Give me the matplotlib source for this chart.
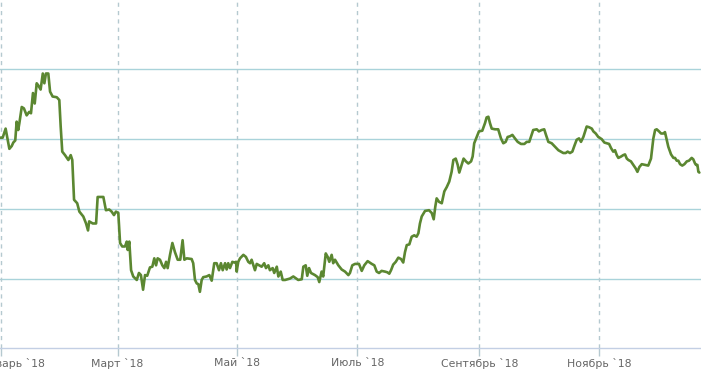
import matplotlib.pyplot as plt
import matplotlib.transforms as mtransforms
import pandas as pd

# days since 1 Jan 2018 and values
days = [-0.8, 0.6, 2.1, 2.9, 4.0, 5.2, 6.0, 7.0, 7.7, 8.5, 9.1, 10.3, 11.4, 12.8, 14.1, 15.0,
        16.0, 16.9, 17.9, 18.7, 19.9, 21.0, 21.8, 22.6, 23.8, 24.7, 26.0, 28.1, 29.4, 30.1,
        30.9, 32.3, 34.0, 35.2, 36.0, 36.9, 38.5, 39.6, 41.6, 43.0, 44.0, 44.6, 46.4, 48.1,
        48.9, 51.8, 53.1, 54.8, 56.0, 57.2, 58.2, 59.4, 60.3, 61.4, 62.8, 63.7, 64.2, 65.0,
        65.9, 67.0, 68.8, 69.9, 70.9, 72.0, 73.0, 74.1, 75.5, 76.7, 77.7, 78.6, 79.4, 80.6,
        81.8, 82.8, 83.7, 84.5, 85.7, 86.9, 88.2, 89.6, 90.9, 92.1, 93.0, 94.2, 96.7, 97.5,
        98.4, 99.3, 100.1, 100.9, 101.8, 102.6, 104.3, 105.7, 106.9, 108.2, 109.4, 110.6,
        111.6, 112.5, 113.7, 114.5, 115.3, 116.2, 117.4, 118.4, 119.3, 119.6, 120.4, 121.3,
        123.0, 124.3, 125.5, 126.4, 127.2, 128.1, 128.9, 129.8, 131.0, 132.3, 133.6, 134.5,
        135.7, 136.5, 137.9, 138.7, 140.0, 140.8, 142.0, 143.0, 144.2, 146.7, 148.4, 150.9,
        152.7, 153.5, 154.7, 155.5, 156.4, 157.4, 159.4, 160.8, 161.6, 162.8, 163.6, 164.9,
        165.9, 166.7, 167.9, 168.7, 169.6, 171.3, 173.0, 174.7, 176.4, 177.2, 178.4, 179.8,
        181.8, 183.2, 184.5, 186.2, 188.3, 189.6, 190.8, 192.0, 193.3, 195.0, 196.2, 197.2,
        198.1, 199.2, 200.5, 201.8, 203.2, 204.3, 205.2, 206.1, 207.4, 208.6, 209.9, 211.1,
        212.0, 212.8, 213.7, 215.4, 217.4, 218.8, 219.8, 220.6, 221.3, 222.5, 223.9, 225.2,
        226.4, 227.7, 228.9, 229.8, 231.0, 232.0, 232.8, 233.7, 235.0, 236.2, 237.4, 238.8,
        239.6, 240.4, 241.7, 242.8, 244.5, 245.9, 246.7, 247.6, 248.4, 249.3, 251.0, 252.6,
        254.0, 255.2, 256.4, 257.4, 258.6, 259.8, 261.1, 262.5, 264.2, 265.9, 267.1, 268.4,
        269.6, 270.4, 272.2, 273.3, 274.7, 276.0, 276.9, 278.1, 279.8, 281.5, 283.2, 284.5,
        285.7, 286.9, 287.9, 289.1, 290.3, 291.3, 292.5, 293.7, 294.7, 295.9, 297.6, 298.8,
        300.2, 301.0, 302.2, 303.5, 305.2, 306.6, 307.8, 309.0, 310.0, 311.1, 312.0, 312.9,
        313.7, 315.1, 316.2, 317.1, 318.0, 318.8, 320.1, 321.3, 322.5, 323.4, 324.4, 325.6,
        327.3, 328.9, 330.3, 331.5, 332.4, 333.2, 334.4, 335.4, 336.6, 337.4, 338.3, 339.1,
        340.5, 341.7, 342.5, 343.4, 344.2, 345.1, 346.2, 347.3, 348.5, 349.6, 351.0, 351.8,
        352.7, 353.2, 353.9, 354.4, 354.9]
values = [90.2, 90.2, 91.5, 90.3, 88.6, 89.0, 89.5, 89.8, 92.5, 91.3, 92.3, 94.6, 94.4, 93.4, 93.9, 93.7,
          96.6, 95.1, 98.0, 97.7, 97.1, 99.4, 98.0, 99.4, 99.4, 96.8, 96.1, 96.0, 95.6, 91.8,
          88.2, 87.7, 87.0, 87.7, 87.0, 81.3, 80.8, 79.6, 78.9, 77.9, 76.9, 78.2, 77.9, 77.9,
          81.7, 81.7, 79.8, 79.9, 79.6, 79.1, 79.6, 79.4, 75.1, 74.6, 74.6, 75.3, 74.1, 75.3,
          71.2, 70.3, 69.8, 70.8, 70.5, 68.4, 70.5, 70.4, 71.6, 71.7, 72.9, 71.9, 72.9, 72.7,
          71.9, 71.5, 72.4, 71.5, 73.4, 75.1, 73.8, 72.7, 72.7, 75.5, 72.7, 72.9, 72.8, 72.2,
          69.8, 69.3, 69.2, 68.1, 69.8, 70.2, 70.3, 70.5, 69.7, 72.2, 72.2, 71.2,
          72.2, 71.2, 72.2, 71.3, 72.2, 71.5, 72.4, 72.3, 72.4, 71.0, 72.4, 72.9,
          73.4, 73.1, 72.4, 72.2, 72.7, 71.9, 71.2, 72.1, 71.9, 71.7, 72.2, 71.5,
          71.9, 71.2, 71.5, 70.8, 71.7, 70.3, 71.0, 69.8, 69.8, 70.0, 70.3, 69.8,
          69.9, 71.7, 71.9, 70.4, 71.5, 70.8, 70.5, 70.2, 69.5, 71.0, 70.3, 73.6,
          73.1, 72.4, 73.4, 72.2, 72.7, 71.9, 71.3, 71.0, 70.5, 70.8, 71.9, 72.1,
          72.1, 71.1, 71.9, 72.5, 72.1, 71.9, 71.0, 70.8, 71.1, 71.0, 70.9, 70.7,
          71.2, 72.0, 72.4, 73.0, 72.8, 72.3, 73.8, 74.8, 74.9, 76.0, 76.2, 76.0,
          76.5, 77.9, 78.9, 79.7, 79.8, 79.4, 78.5, 80.3, 81.5, 81.0, 80.8, 82.5,
          83.1, 83.9, 85.3, 87.0, 87.2, 86.3, 85.2, 86.0, 87.2, 86.8, 86.5, 86.8,
          87.5, 89.4, 90.3, 91.1, 91.2, 92.3, 93.1, 93.2, 92.3, 91.5, 91.4, 91.4,
          90.1, 89.4, 89.6, 90.3, 90.4, 90.6, 90.1, 89.6, 89.3, 89.3, 89.6, 89.6,
          90.6, 91.3, 91.4, 91.1, 91.3, 91.4, 90.6, 89.6, 89.4, 88.9, 88.4, 88.2,
          88.0, 88.0, 88.2, 88.0, 88.2, 89.0, 89.9, 90.1, 89.6, 90.3, 91.8, 91.7,
          91.5, 91.1, 90.8, 90.3, 90.0, 89.5, 89.4, 89.3, 88.7, 88.2, 88.4, 87.7,
          87.3, 87.5, 87.7, 87.8, 87.2, 87.0, 86.8, 86.3, 85.8, 85.3, 86.0, 86.4,
          86.3, 86.2, 87.2, 90.1, 91.3, 91.4, 91.1, 90.8, 90.8, 91.0, 89.9, 88.9,
          87.8, 87.3, 87.3, 86.9, 86.9, 86.4, 86.2, 86.4, 86.8, 86.9, 87.3, 87.1,
          86.5, 86.3, 86.3, 85.3, 85.2]

tick_dates = ["2018-01-01", "2018-03-01", "2018-05-01", "2018-07-01", "2018-09-01", "2018-11-01"]
tick_labels = ["Январь `18", "Март `18", "Май `18", "Июль `18", "Сентябрь `18", "Ноябрь `18"]
grid_levels = [70, 80, 90, 100]

start = pd.Timestamp("2018-01-01")
dates = start + pd.to_timedelta(days, unit="D")

fig = plt.figure(figsize=(7.01, 3.77), dpi=100)
ax = fig.add_axes([0, 0.0761, 1, 0.9239])

ax.plot(dates, values, color="#5b8731", lw=1.9, solid_joinstyle="round",
        solid_capstyle="round", zorder=3)

ax.set_xlim(start - pd.Timedelta(days=0.76), start + pd.Timedelta(days=355.73))
ax.set_ylim(60, 109.94)

for lv in grid_levels:
    ax.axhline(lv, color="#a9d3da", lw=1, zorder=1)

ax.set_xticks(pd.to_datetime(tick_dates))
ax.set_xticklabels(tick_labels, fontsize=7.8, color="#666666")
ax.grid(axis="x", color="#b5c9d0", lw=1, linestyle=(0, (3, 3)), zorder=1)
ax.tick_params(axis="x", length=6, width=1, color="#b5c9d0", pad=0.8)
ax.set_yticks([])

for s in ["left", "right", "top"]:
    ax.spines[s].set_visible(False)
ax.spines["bottom"].set_color("#c3cfe4")
ax.spines["bottom"].set_linewidth(1)

# first label is pushed right and cut at the left edge, as in the original
lab = ax.get_xticklabels()[0]
lab.set_ha("right")
lab.set_transform(lab.get_transform() + mtransforms.ScaledTranslation(0.43, 0, fig.dpi_scale_trans))

fig.savefig("out.png", dpi=100, facecolor="white")
